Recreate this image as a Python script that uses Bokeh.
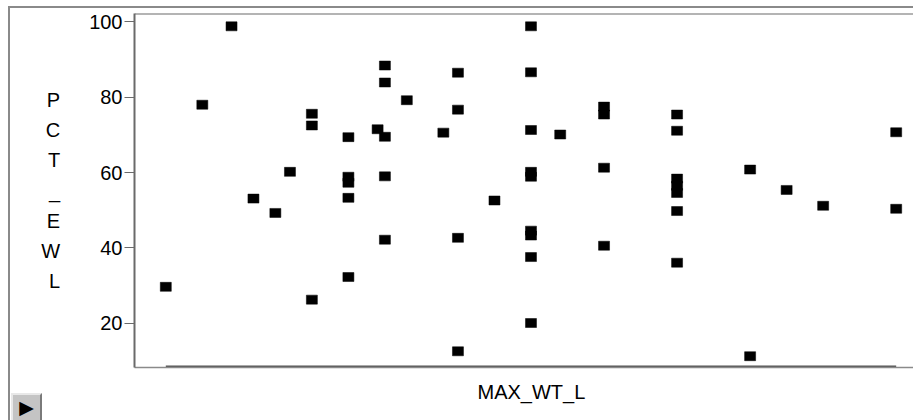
from bokeh.plotting import figure
from bokeh.models import FixedTicker, Span, Title, Range1d, ColumnDataSource, InlineStyleSheet
from bokeh.embed import file_html
from bokeh.resources import INLINE

# ---- data ----
max_wt_l = [2.0, 2.5, 2.9, 3.2, 3.5, 3.7,
            4.0, 4.0, 4.0,
            4.5, 4.5, 4.5, 4.5, 4.5,
            4.9,
            5.0, 5.0, 5.0, 5.0, 5.0,
            5.3, 5.8,
            6.0, 6.0, 6.0, 6.0,
            6.5,
            7.0, 7.0, 7.0, 7.0, 7.0, 7.0, 7.0, 7.0, 7.0,
            7.4,
            8.0, 8.0, 8.0, 8.0,
            9.0, 9.0, 9.0, 9.0, 9.0, 9.0, 9.0,
            10.0, 10.0, 10.5, 11.0, 12.0, 12.0]
pct_ewl = [29.7, 78.0, 98.8, 53.1, 49.3, 60.2,
           75.6, 72.5, 26.3,
           69.4, 58.9, 57.3, 53.3, 32.3,
           71.5,
           88.4, 83.9, 69.5, 59.0, 42.2,
           79.2, 70.6,
           86.5, 76.7, 42.7, 12.6,
           52.6,
           98.8, 86.6, 71.3, 60.2, 58.9, 44.6, 43.3, 37.6, 20.1,
           70.1,
           77.5, 75.4, 61.3, 40.6,
           75.4, 71.1, 58.4, 56.5, 54.6, 49.8, 36.1,
           60.8, 11.3, 55.4, 51.2, 70.7, 50.4]
y_ticks = [20, 40, 60, 80, 100]
y_tick_labels = ["20", "40", "60", "80", "100"]
x_title = "MAX_WT_L"
y_title = "PCT_EWL"

FONT = "Liberation Sans"
FRAME = "#6a6a6a"

x_lo, x_hi = 1.5715, 12.237
y_lo, y_hi = 8.3, 102.2

p = figure(width=913, height=420, output_backend="svg", toolbar_location=None,
           x_range=Range1d(x_lo, x_hi), y_range=Range1d(y_lo, y_hi),
           min_border_left=134, min_border_right=0, min_border_top=13, min_border_bottom=53)
p.grid.visible = False
p.outline_line_color = None
p.background_fill_color = "white"
p.border_fill_color = "white"

# y axis
p.yaxis.ticker = FixedTicker(ticks=y_ticks)
p.yaxis.major_label_overrides = {t: l for t, l in zip(y_ticks, y_tick_labels)}
p.yaxis.axis_line_color = FRAME
p.yaxis.axis_line_width = 2
p.yaxis.major_tick_line_color = FRAME
p.yaxis.major_tick_out = 10
p.yaxis.major_tick_in = 0
p.yaxis.minor_tick_line_color = None
p.yaxis.major_label_text_font = FONT
p.yaxis.major_label_text_font_size = "20px"
p.yaxis.major_label_text_color = "black"
p.yaxis.major_label_standoff = 2
p.yaxis.axis_label = "\n".join(list(y_title))
p.yaxis.axis_label_orientation = "horizontal"
p.yaxis.axis_label_text_font = FONT
p.yaxis.axis_label_text_font_style = "normal"
p.yaxis.axis_label_text_font_size = "20px"
p.yaxis.axis_label_text_line_height = 1.37
p.yaxis.axis_label_text_color = "black"
p.yaxis.axis_label_standoff = 26

# x axis: only the frame line
p.xaxis.ticker = FixedTicker(ticks=[])
p.xaxis.major_tick_line_color = None
p.xaxis.minor_tick_line_color = None
p.xaxis.axis_line_color = "#8a8a8a"
p.xaxis.axis_line_width = 1.5

p.add_layout(Title(text=x_title, align="left", offset=343, standoff=22, text_font=FONT,
                   text_font_size="20px", text_font_style="normal", text_color="black"), "below")

# top frame line
p.add_layout(Span(location=y_hi, dimension="width", line_color=FRAME, line_width=2))

# data range line along the bottom
p.segment(x0=[min(max_wt_l)], x1=[max(max_wt_l)], y0=[y_lo], y1=[y_lo],
          line_color="#555555", line_width=4)

src = ColumnDataSource(dict(x=max_wt_l, y=pct_ewl))
p.rect(x="x", y="y", width=11, height=9, width_units="screen", height_units="screen",
       source=src, fill_color="black", line_color="black", line_width=0.5)

# window chrome: outer border (left + top) and the small button at bottom-left
p.stylesheets = [InlineStyleSheet(css="""
:host { position: relative; overflow: hidden; }
:host::before {
  content: ""; position: absolute; left: 8px; top: 6px; right: 0px; bottom: 0px;
  border-left: 2px solid #8a8a8a; border-top: 2px solid #8a8a8a;
  pointer-events: none; z-index: 10;
}
:host::after {
  content: "\\25B6"; position: absolute; left: 11px; top: 393px; width: 27px; height: 25px;
  background: #c4c4c4; border-top: 2px solid #e8e8e8; border-left: 2px solid #e8e8e8;
  border-right: 2px solid #7a7a7a; border-bottom: 2px solid #7a7a7a;
  color: black; font: 19px 'DejaVu Sans'; line-height: 25px; text-align: center;
  pointer-events: none; z-index: 10;
}
""")]

open("out.html", "w").write(file_html(p, INLINE))
